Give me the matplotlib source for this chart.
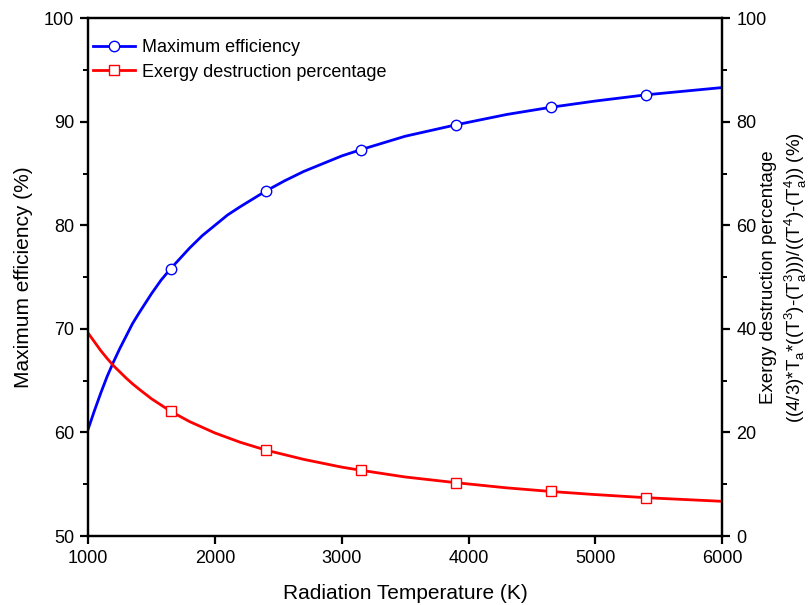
"""Maximum efficiency and exergy destruction vs radiation temperature."""

import matplotlib
matplotlib.use('Agg')
import matplotlib.pyplot as plt
from matplotlib.ticker import MultipleLocator

plt.rcParams['font.family'] = ['Liberation Sans', 'DejaVu Sans']
plt.rcParams['mathtext.fontset'] = 'custom'
plt.rcParams['mathtext.rm'] = 'Liberation Sans'

# values
temperature = [1000, 1050, 1100, 1150, 1200, 1250, 1300, 1350, 1400, 1500,
               1575, 1650, 1800, 1900, 2000, 2100, 2200, 2400, 2550, 2700,
               3000, 3150, 3500, 3900, 4300, 4650, 5000, 5400, 6000]
max_efficiency = [60.3, 62.1, 63.8, 65.4, 66.8, 68.1, 69.3, 70.5, 71.5, 73.4,
                  74.7, 75.8, 77.8, 79.0, 80.0, 81.0, 81.8, 83.3, 84.3, 85.2,
                  86.7, 87.3, 88.6, 89.7, 90.7, 91.4, 92.0, 92.6, 93.3]
exergy_destruction = [39.2, 37.5, 35.8, 34.3, 32.9, 31.7, 30.5, 29.4, 28.4, 26.5,
                      25.3, 24.1, 22.1, 21.0, 19.9, 19.0, 18.1, 16.6, 15.7, 14.8,
                      13.3, 12.7, 11.4, 10.3, 9.3, 8.6, 8.0, 7.4, 6.7]
marker_temps = [1650, 2400, 3150, 3900, 4650, 5400]
marker_idx = [temperature.index(t) for t in marker_temps]

fig = plt.figure(figsize=(8.08, 6.05), dpi=100)
ax = fig.add_axes([0.109, 0.114, 0.785, 0.856])
ax2 = ax.twinx()

l1, = ax.plot(temperature, max_efficiency, '-o', color='#0000ff', lw=2,
              ms=7.5, mfc='white', mew=1.0, markevery=marker_idx,
              label='Maximum efficiency')
l2, = ax2.plot(temperature, exergy_destruction, '-s', color='#ff0000', lw=2,
               ms=7, mfc='white', mew=1.0, markevery=marker_idx,
               label='Exergy destruction percentage')

ax.set_xlim(1000, 6000)
ax.set_ylim(50, 100)
ax2.set_ylim(0, 100)
ax.xaxis.set_major_locator(MultipleLocator(1000))
ax.yaxis.set_major_locator(MultipleLocator(10))
ax.yaxis.set_minor_locator(MultipleLocator(5))
ax2.yaxis.set_major_locator(MultipleLocator(20))
ax2.yaxis.set_minor_locator(MultipleLocator(10))

for a in (ax, ax2):
    for s in a.spines.values():
        s.set_linewidth(1.6)
    a.tick_params(which='major', direction='out', length=6, width=1.6,
                  labelsize=13, pad=4)
    a.tick_params(which='minor', direction='out', length=3.5, width=1.4)

ax.set_xlabel('Radiation Temperature (K)', fontsize=15, labelpad=12)
ax.set_ylabel('Maximum efficiency (%)', fontsize=15, labelpad=8)
ax2.set_ylabel('Exergy destruction percentage\n'
               r'((4/3)*T$_\mathregular{a}$*((T$^\mathregular{3}$)-(T$_\mathregular{a}^\mathregular{3}$)))'
               r'/((T$^\mathregular{4}$)-(T$_\mathregular{a}^\mathregular{4}$)) (%)',
               fontsize=13.5, linespacing=1.3)
ax2.yaxis.set_label_coords(1.06, 0.5)

ax.legend(handles=[l1, l2], loc='upper left', frameon=False, fontsize=13,
          handlelength=2.3, handletextpad=0.4, labelspacing=0.42,
          borderpad=0.3, borderaxespad=0.0, bbox_to_anchor=(0.0, 0.97))

fig.savefig('out.png', dpi=100)
